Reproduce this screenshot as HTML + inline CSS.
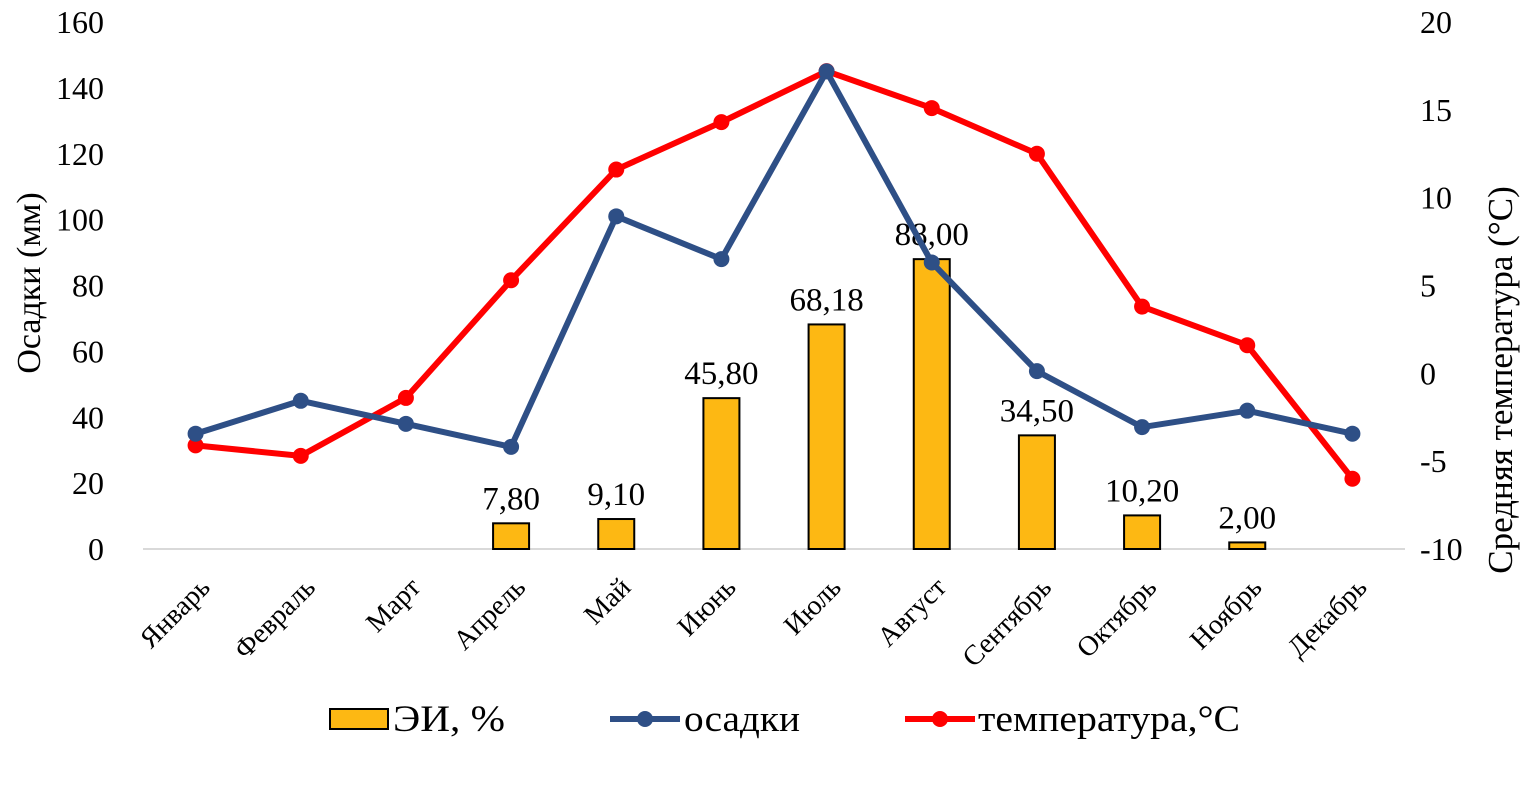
<!DOCTYPE html>
<html><head><meta charset="utf-8"><style>
body{margin:0;background:#fff}
svg{display:block;font-family:"Liberation Serif","DejaVu Serif",serif}
</style></head><body>
<svg id="chart" width="1535" height="806"></svg>
<script>
const categories=["Январь","Февраль","Март","Апрель","Май","Июнь","Июль","Август","Сентябрь","Октябрь","Ноябрь","Декабрь"];
const eiValues=[null,null,null,7.8,9.1,45.8,68.18,88.0,34.5,10.2,2.0,null];
const eiLabels=[null,null,null,"7,80","9,10","45,80","68,18","88,00","34,50","10,20","2,00",null];
const precip=[35,45,38,31,101,88,145,87,54,37,42,35];
const temp=[-4.1,-4.7,-1.4,5.3,11.6,14.3,17.2,15.1,12.5,3.8,1.6,-6.0];
const leftTicks=[0,20,40,60,80,100,120,140,160];
const rightTicks=[-10,-5,0,5,10,15,20];

const NS="http://www.w3.org/2000/svg";
const svg=document.getElementById('chart');
const X0=143,X1=1405,Y0=549,Y1=22;
const bw=(X1-X0)/categories.length;
const xc=i=>X0+bw*(i+0.5);
const yL=v=>Y0-(v/160)*(Y0-Y1);
const yR=v=>Y0-((v+10)/30)*(Y0-Y1);
function el(t,a,txt){const e=document.createElementNS(NS,t);for(const k in a)e.setAttribute(k,a[k]);if(txt!=null)e.textContent=txt;svg.appendChild(e);return e;}

leftTicks.forEach(v=>{
  const t=el('text',{x:104,y:yL(v)+11,'text-anchor':'end','font-size':32,fill:'#000'},v);
  
  
});
rightTicks.forEach(v=>{
  const t=el('text',{x:1420,y:yR(v)+11,'font-size':32,fill:'#000'},v);
  
  
});
const yt=el('text',{x:0,y:0,transform:'translate(40,283) rotate(-90)','text-anchor':'middle','font-size':34},'Осадки (мм)');


const yt2=el('text',{x:0,y:0,transform:'translate(1512,380) rotate(-90)','text-anchor':'middle','font-size':35},'Средняя температура (°С)');



const ax=el('line',{x1:X0,y1:Y0,x2:X1,y2:Y0,stroke:'#d9d9d9','stroke-width':2});



categories.forEach((c,i)=>{
  const t=el('text',{x:0,y:0,transform:`translate(${xc(i)+16},${Y0+40}) rotate(-45)`,'text-anchor':'end','font-size':28},c);
  
  
});

eiValues.forEach((v,i)=>{
  if(v==null)return;
  const r=el('rect',{x:xc(i)-18,y:yL(v),width:36,height:Y0-yL(v),fill:'#fdb813',stroke:'#000','stroke-width':2});
  
  
  const t=el('text',{x:xc(i),y:yL(v)-14,'text-anchor':'middle','font-size':33},eiLabels[i]);
  
  
});

function series(vals,yf,col,name){
  const p=el('polyline',{points:vals.map((v,i)=>xc(i)+','+yf(v)).join(' '),fill:'none',stroke:col,'stroke-width':6,'stroke-linejoin':'round'});
  
  
  vals.forEach((v,i)=>{
    const c=el('circle',{cx:xc(i),cy:yf(v),r:8,fill:col});
    
    
  });
}
series(temp,yR,'#ff0000','temperature');
series(precip,yL,'#2e4f86','precipitation');

const lb=el('rect',{x:330,y:709,width:58,height:20,fill:'#fdb813',stroke:'#000','stroke-width':2});


const lt1=el('text',{x:393,y:731,'font-size':37,textLength:112,lengthAdjust:'spacingAndGlyphs'},'ЭИ, %');


const l2=el('line',{x1:610,y1:719,x2:680,y2:719,stroke:'#2e4f86','stroke-width':6});


const c2=el('circle',{cx:645,cy:719,r:8,fill:'#2e4f86'});


const lt2=el('text',{x:684,y:731,'font-size':37,textLength:116,lengthAdjust:'spacingAndGlyphs'},'осадки');


const l3=el('line',{x1:905,y1:719,x2:975,y2:719,stroke:'#ff0000','stroke-width':6});


const c3=el('circle',{cx:940,cy:719,r:8,fill:'#ff0000'});


const lt3=el('text',{x:978,y:731,'font-size':37,textLength:262,lengthAdjust:'spacingAndGlyphs'},'температура,°С');


</script>
</body></html>
